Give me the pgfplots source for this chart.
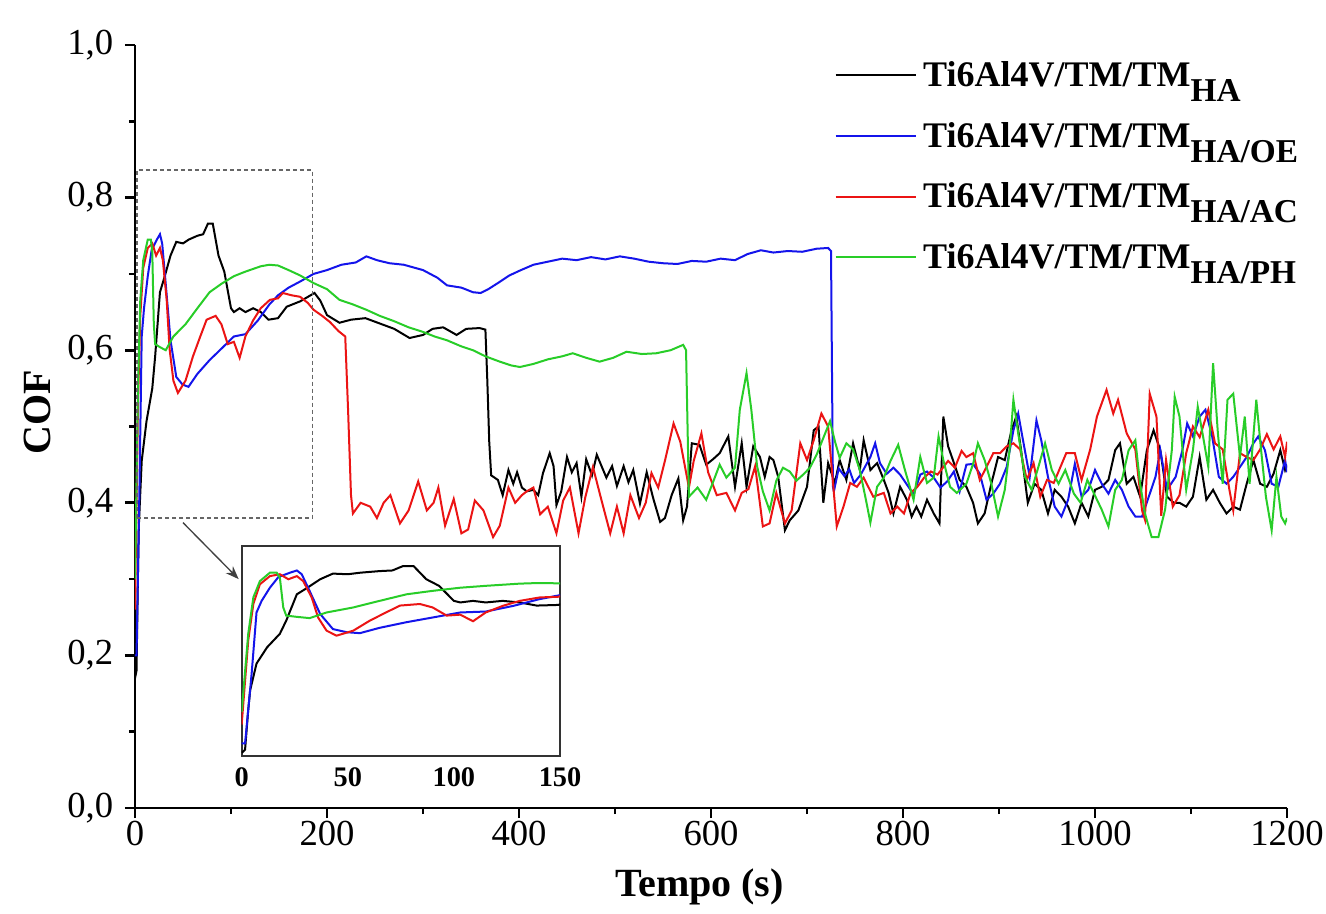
\documentclass[border=0pt]{standalone}
\usepackage{fontspec}
\setmainfont{Liberation Serif}
\usepackage{pgfplots}
\pgfplotsset{compat=1.18}
\usepackage{pgfplotstable}
\usetikzlibrary{arrows.meta}

\definecolor{cofblue}{RGB}{20,20,235}
\definecolor{cofred}{RGB}{235,20,20}
\definecolor{cofgreen}{RGB}{40,205,40}

% COF vs time
\pgfplotstableread{
t c
0 0.17
1.6 0.18
3 0.30
4 0.37
7 0.455
12 0.507
18 0.55
21 0.592
26 0.676
31 0.697
37 0.724
43 0.742
50 0.740
56 0.745
65 0.750
71 0.752
76 0.766
81 0.766
87 0.724
93 0.703
100 0.655
103 0.650
109 0.655
115 0.650
123 0.655
131 0.650
139 0.640
149 0.642
158 0.657
172 0.664
187 0.675
193 0.665
200 0.646
213 0.636
225 0.640
240 0.642
255 0.635
270 0.628
286 0.616
300 0.620
310 0.628
321 0.630
335 0.620
345 0.628
359 0.629
365 0.627
367 0.560
369 0.480
371 0.436
378 0.430
383 0.410
389 0.443
394 0.425
398 0.440
403 0.420
408 0.415
415 0.417
420 0.410
425 0.439
432 0.465
436 0.448
439 0.397
444 0.415
450 0.460
455 0.440
460 0.452
465 0.408
470 0.457
476 0.436
481 0.463
486 0.448
491 0.433
497 0.448
502 0.422
509 0.448
514 0.427
519 0.443
526 0.399
533 0.440
540 0.405
547 0.375
552 0.380
559 0.410
566 0.432
571 0.377
575 0.395
580 0.478
588 0.476
595 0.450
602 0.457
609 0.465
618 0.487
625 0.421
632 0.478
637 0.421
644 0.474
651 0.460
656 0.434
661 0.460
665 0.456
670 0.434
677 0.364
682 0.377
691 0.390
700 0.421
707 0.495
712 0.500
717 0.400
722 0.452
729 0.426
734 0.456
741 0.430
748 0.478
755 0.443
759 0.482
766 0.443
773 0.452
780 0.430
785 0.413
790 0.386
797 0.421
804 0.404
809 0.382
814 0.395
819 0.382
825 0.404
832 0.386
838 0.373
842 0.513
847 0.474
852 0.456
859 0.430
866 0.421
873 0.400
878 0.373
885 0.386
892 0.425
899 0.460
906 0.456
913 0.495
918 0.513
923 0.469
930 0.400
937 0.425
944 0.417
951 0.386
958 0.417
965 0.408
972 0.395
979 0.373
986 0.400
993 0.382
1000 0.417
1007 0.421
1014 0.430
1021 0.469
1026 0.478
1033 0.425
1040 0.434
1047 0.408
1054 0.469
1061 0.495
1068 0.469
1075 0.408
1082 0.400
1088 0.400
1095 0.395
1102 0.408
1109 0.460
1116 0.404
1123 0.417
1130 0.400
1137 0.386
1144 0.395
1151 0.391
1158 0.425
1165 0.456
1172 0.425
1179 0.421
1186 0.438
1193 0.469
1198 0.443
1200 0.450
}\blackdata

\pgfplotstableread{
t c
0 0.20
1.6 0.20
3 0.30
4.7 0.423
7 0.618
9.4 0.655
13.3 0.697
17.3 0.731
22.8 0.745
26 0.752
28.3 0.740
32 0.687
37 0.613
43 0.565
49.5 0.555
55.7 0.552
65 0.569
77.7 0.587
90 0.602
103 0.618
115 0.621
128 0.639
140 0.660
149 0.672
160 0.682
172 0.690
186 0.700
200 0.705
215 0.712
230 0.715
241 0.723
252 0.718
265 0.714
280 0.712
300 0.705
315 0.695
325 0.685
340 0.682
352 0.676
360 0.675
368 0.680
378 0.688
390 0.698
402 0.705
415 0.712
430 0.716
445 0.720
460 0.718
475 0.722
490 0.719
505 0.723
520 0.720
535 0.716
550 0.714
565 0.713
580 0.717
595 0.716
610 0.720
625 0.718
638 0.726
652 0.731
665 0.728
680 0.730
695 0.729
710 0.733
722 0.734
725 0.730
727 0.421
728 0.415
733 0.445
739 0.435
744 0.444
749 0.426
756 0.437
766 0.460
771 0.478
776 0.452
783 0.438
790 0.446
797 0.437
804 0.424
811 0.411
818 0.437
825 0.441
832 0.433
839 0.420
846 0.428
853 0.441
859 0.415
866 0.450
873 0.451
880 0.438
887 0.404
894 0.412
901 0.425
908 0.447
915 0.495
920 0.517
925 0.482
932 0.434
939 0.508
944 0.482
951 0.434
958 0.395
965 0.382
972 0.404
979 0.451
986 0.408
993 0.417
1000 0.443
1007 0.425
1014 0.412
1021 0.430
1028 0.417
1035 0.395
1042 0.382
1049 0.382
1056 0.408
1063 0.434
1068 0.469
1075 0.417
1084 0.434
1091 0.469
1096 0.504
1102 0.487
1109 0.513
1115 0.522
1122 0.487
1129 0.434
1137 0.425
1144 0.434
1151 0.447
1158 0.460
1165 0.478
1170 0.487
1177 0.469
1184 0.425
1191 0.421
1198 0.456
1200 0.440
}\bluedata

\pgfplotstableread{
t c
0 0.26
3.1 0.529
5.5 0.645
8.6 0.708
13.3 0.734
18 0.740
22 0.724
26 0.734
29 0.718
33 0.666
36 0.602
40 0.560
44.7 0.544
52.6 0.560
60.4 0.592
68 0.618
74.6 0.640
84 0.645
90 0.634
96.6 0.608
103 0.611
109 0.590
115 0.618
123 0.639
131 0.655
140.5 0.666
149 0.668
154 0.675
163 0.672
172 0.670
180 0.662
186 0.653
195 0.645
203 0.637
212 0.625
219 0.618
222 0.520
225 0.410
227 0.386
235 0.400
245 0.395
252 0.380
259 0.400
266 0.410
276 0.373
285 0.390
295 0.428
304 0.390
311 0.400
316 0.420
323 0.370
332 0.405
340 0.360
347 0.365
354 0.403
363 0.390
373 0.355
380 0.370
389 0.420
396 0.400
403 0.410
408 0.415
415 0.420
422 0.385
430 0.395
439 0.360
446 0.403
453 0.420
462 0.360
469 0.407
477 0.447
486 0.403
495 0.360
502 0.395
509 0.360
516 0.410
525 0.380
532 0.400
538 0.439
545 0.420
552 0.455
561 0.504
568 0.480
577 0.420
582 0.455
590 0.491
597 0.440
606 0.410
616 0.413
625 0.390
632 0.413
639 0.418
646 0.448
654 0.369
661 0.373
668 0.413
677 0.373
684 0.390
693 0.478
700 0.456
707 0.482
715 0.517
722 0.500
731 0.369
738 0.395
745 0.426
752 0.421
759 0.433
769 0.408
780 0.413
787 0.386
794 0.395
801 0.386
808 0.413
815 0.421
822 0.433
829 0.441
836 0.437
847 0.455
854 0.446
861 0.468
866 0.460
873 0.465
880 0.430
887 0.447
894 0.465
901 0.465
908 0.474
915 0.478
922 0.470
929 0.430
936 0.452
943 0.408
950 0.430
957 0.426
964 0.447
970 0.465
979 0.465
986 0.430
995 0.470
1002 0.513
1012 0.548
1019 0.517
1024 0.535
1033 0.491
1042 0.470
1049 0.390
1052 0.378
1057 0.543
1064 0.513
1069 0.383
1074 0.456
1081 0.395
1088 0.410
1095 0.465
1102 0.500
1109 0.486
1118 0.522
1125 0.478
1133 0.470
1140 0.417
1144 0.390
1151 0.465
1158 0.460
1165 0.456
1172 0.470
1179 0.490
1186 0.470
1193 0.487
1198 0.460
1200 0.480
}\reddata

\pgfplotstableread{
t c
0 0.30
3.1 0.550
5.5 0.666
8.6 0.718
13.3 0.745
16.5 0.745
18 0.729
19.6 0.634
21 0.608
26 0.604
32 0.600
40 0.618
52.6 0.634
65 0.655
77.7 0.676
90 0.687
103 0.697
115 0.703
131 0.710
140 0.712
149 0.711
160 0.705
172 0.698
186 0.688
200 0.680
213 0.666
227 0.660
241 0.653
255 0.645
270 0.638
285 0.630
300 0.624
312 0.618
325 0.613
340 0.605
352 0.600
365 0.592
380 0.585
392 0.580
401 0.578
415 0.582
430 0.588
445 0.592
456 0.596
470 0.590
484 0.585
498 0.590
512 0.598
528 0.595
543 0.596
558 0.600
571 0.607
574 0.600
577 0.408
586 0.420
595 0.404
603 0.430
609 0.450
616 0.433
625 0.446
630 0.522
637 0.570
642 0.522
648 0.448
654 0.415
661 0.390
668 0.429
675 0.446
682 0.441
689 0.429
696 0.437
703 0.446
710 0.463
717 0.485
724 0.507
729 0.481
734 0.459
741 0.478
748 0.470
755 0.443
762 0.400
766 0.374
773 0.421
780 0.433
787 0.455
795 0.476
802 0.443
811 0.404
818 0.460
825 0.426
832 0.433
837 0.487
842 0.456
849 0.421
856 0.413
866 0.425
873 0.451
878 0.478
885 0.456
892 0.425
899 0.382
906 0.417
911 0.469
915 0.535
920 0.491
927 0.434
934 0.417
941 0.447
948 0.478
955 0.443
962 0.425
969 0.443
978 0.412
985 0.400
992 0.430
999 0.412
1007 0.391
1014 0.369
1021 0.417
1028 0.430
1035 0.469
1042 0.482
1047 0.425
1052 0.386
1059 0.355
1066 0.355
1073 0.391
1080 0.469
1083 0.539
1088 0.513
1095 0.417
1102 0.469
1107 0.526
1112 0.491
1118 0.447
1123 0.583
1128 0.491
1133 0.425
1138 0.535
1144 0.543
1151 0.460
1156 0.513
1161 0.425
1168 0.535
1173 0.469
1178 0.408
1184 0.364
1189 0.434
1194 0.382
1198 0.373
1200 0.380
}\greendata

\newcommand{\legtxt}[1]{Ti6Al4V/TM/TM\raisebox{-4.5pt}{\fontsize{10}{10}\selectfont #1}}

\begin{document}
\begin{tikzpicture}
\begin{axis}[
  scale only axis,
  width=345.6pt, height=228.9pt,
  xmin=0, xmax=1200, ymin=0, ymax=1,
  axis x line*=bottom, axis y line*=left,
  axis line style={line width=0.8pt},
  tick align=outside,
  major tick length=3pt, minor tick length=1.8pt,
  every tick/.style={black, line width=0.8pt},
  xtick={0,200,400,600,800,1000,1200},
  ytick={0,0.2,0.4,0.6,0.8,1},
  minor x tick num=1, minor y tick num=1,
  /pgf/number format/assume math mode=true,
  ticklabel style={font=\fontsize{11}{13}\selectfont},
  xticklabel style={/pgf/number format/1000 sep={}, yshift=2.5pt},
  yticklabel style={/pgf/number format/.cd, fixed, fixed zerofill, precision=1, use comma},
  xlabel={Tempo (s)}, ylabel={COF},
  label style={font=\fontsize{12}{14}\selectfont\bfseries},
  xlabel style={at={(axis description cs:0.49,-0.104)}, anchor=center},
  ylabel style={at={(axis description cs:-0.085,0.519)}, anchor=center},
  legend style={draw=none, fill=none, at={(axis cs:728,0.988)}, anchor=north west,
    font=\fontsize{10.8}{12}\selectfont\bfseries, row sep=5.2pt, inner sep=0pt},
  legend cell align=left,
  legend image code/.code={\draw[#1] (0pt,0.3pt) -- (24pt,0.3pt);},
  every axis plot/.append style={line width=0.6pt},
]
\addplot[black] table[x=t, y=c] {\blackdata};
\addlegendentry{\legtxt{HA}}
\addplot[cofblue] table[x=t, y=c] {\bluedata};
\addlegendentry{\legtxt{HA/OE}}
\addplot[cofred] table[x=t, y=c] {\reddata};
\addlegendentry{\legtxt{HA/AC}}
\addplot[cofgreen] table[x=t, y=c] {\greendata};
\addlegendentry{\legtxt{HA/PH}}
% zoom box and arrow
\draw[black!60, line width=0.5pt, dash pattern=on 1.2pt off 0.9pt] (axis cs:2,0.38) rectangle (axis cs:185,0.836);
\draw[black!75, line width=0.4pt, -{Stealth[length=4pt]}] (axis cs:50,0.374) -- (axis cs:108,0.300);
\end{axis}

\begin{axis}[
  at={(32pt,15.6pt)}, anchor=south west,
  scale only axis, width=95.5pt, height=63pt,
  xmin=0, xmax=150, ymin=0.16, ymax=0.83,
  axis background/.style={fill=white},
  axis line style={line width=0.6pt, black!80},
  xtick={0,50,100,150}, ytick=\empty,
  major tick length=0pt,
  /pgf/number format/assume math mode=true,
  ticklabel style={font=\fontsize{8.5}{10}\selectfont\bfseries},
  every axis plot/.append style={line width=0.6pt},
]
\addplot[black] table[x=t, y=c] {\blackdata};
\addplot[cofblue] table[x=t, y=c] {\bluedata};
\addplot[cofred] table[x=t, y=c] {\reddata};
\addplot[cofgreen] table[x=t, y=c] {\greendata};
\end{axis}
\pgfresetboundingbox
\path[use as bounding box] (-40.5pt,-31.5pt) rectangle (357.3pt,242.4pt);
\end{tikzpicture}
\end{document}
